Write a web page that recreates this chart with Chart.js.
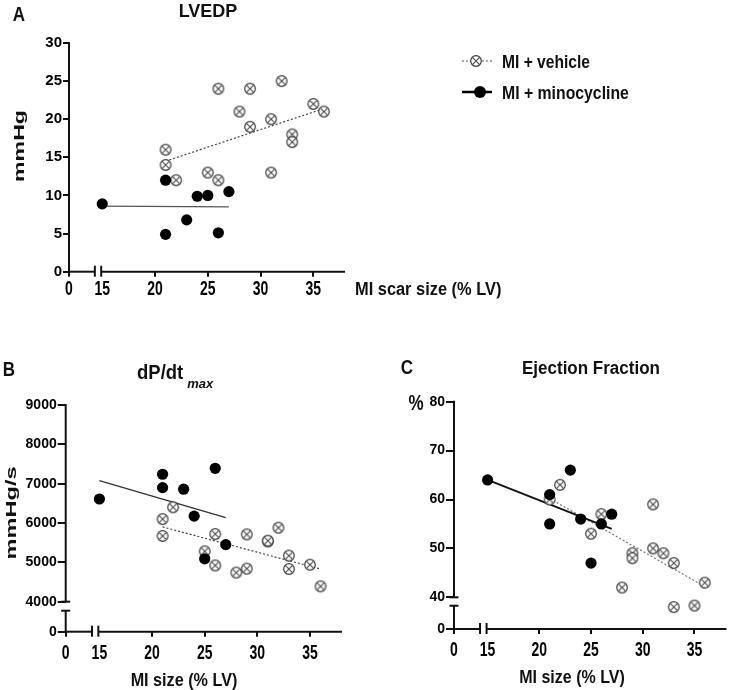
<!DOCTYPE html>
<html><head><meta charset="utf-8">
<script src="https://cdn.jsdelivr.net/npm/chart.js@4.4.0/dist/chart.umd.min.js"></script>
<style>
html,body{margin:0;padding:0;background:#fff;width:733px;height:690px;overflow:hidden;position:relative;
  font-family:"Liberation Sans",Arial,sans-serif;font-weight:bold;color:#111}
canvas{position:absolute}
.t{position:absolute;white-space:nowrap;line-height:1}
</style></head><body>
<canvas id="cA" width="733" height="320" style="left:0;top:0"></canvas>
<canvas id="cB" width="370" height="360" style="left:0;top:330px"></canvas>
<canvas id="cC" width="363" height="360" style="left:370px;top:330px"></canvas>

<div class="t" style="left:19px;top:15px;font-size:17px;transform:translate(-50%,-50%) scale(1,1.15)">A</div>
<div class="t" style="left:208px;top:11px;font-size:18px;transform:translate(-50%,-50%) scale(1,1.05)">LVEDP</div>
<div class="t" style="left:18.5px;top:146px;font-size:17px;transform:translate(-50%,-50%) rotate(-90deg) scale(1.36,0.9)">mmHg</div>
<div class="t" style="left:355px;top:288px;font-size:16.4px;transform:translate(0,-50%) scale(1,1.15)">MI scar size (% LV)</div>
<div class="t" style="left:502px;top:62px;font-size:15.6px;transform:translate(0,-50%) scale(1,1.15)">MI + vehicle</div>
<div class="t" style="left:502px;top:92.5px;font-size:15.8px;transform:translate(0,-50%) scale(1,1.15)">MI + minocycline</div>

<div class="t" style="left:9px;top:370px;font-size:17px;transform:translate(-50%,-50%) scale(1,1.15)">B</div>
<div class="t" style="left:137px;top:373px;font-size:18.5px;transform:translate(0,-50%) scale(1,1.05)">dP/dt<span style="font-style:italic;font-size:13px;position:relative;top:9px;margin-left:4px">max</span></div>
<div class="t" style="left:11px;top:513px;font-size:17px;transform:translate(-50%,-50%) rotate(-90deg) scale(1.39,0.85)">mmHg/s</div>
<div class="t" style="left:184px;top:680px;font-size:16.2px;transform:translate(-50%,-50%) scale(1,1.1)">MI size (% LV)</div>

<div class="t" style="left:407px;top:368px;font-size:17px;transform:translate(-50%,-50%) scale(1,1.15)">C</div>
<div class="t" style="left:522px;top:368px;font-size:17px;transform:translate(0,-50%) scale(1,1.05)">Ejection Fraction</div>
<div class="t" style="left:416px;top:403px;font-size:17px;transform:translate(-50%,-50%) scale(1,1.3)">%</div>
<div class="t" style="left:572px;top:677px;font-size:16px;transform:translate(-50%,-50%) scale(1,1.1)">MI size (% LV)</div>

<script>
// ================= DATA =================
const xTickValues = [0, 15, 20, 25, 30, 35];
const xTickLabels = ['0', '15', '20', '25', '30', '35'];

// Panel A - LVEDP (mmHg) vs MI scar size (% LV)
const vehicleScarA = [21, 21, 22, 25, 26, 26, 28, 29, 29, 31, 31, 32, 33, 33, 35, 36];
const vehicleLVEDP = [16, 14, 12, 13, 12, 24, 21, 24, 19, 20, 13, 25, 18, 17, 22, 21];
const minoScarA    = [15, 21, 21, 23, 24, 25, 26, 27];
const minoLVEDP    = [8.9, 12, 4.9, 6.8, 9.9, 10, 5.1, 10.5];
const fitVehicleA  = [[21, 14.5], [36, 21.4]];
const fitMinoA     = [[15, 8.6], [27, 8.5]];
const yTickValuesA = [0, 5, 10, 15, 20, 25, 30];
const yTickLabelsA = ['0', '5', '10', '15', '20', '25', '30'];

// Panel B - dP/dt max (mmHg/s) vs MI size (% LV)
const vehicleMIB   = [21, 21, 22, 25, 26, 26, 28, 29, 29, 31, 31, 32, 33, 33, 35, 36];
const vehicleDPDT  = [6100, 5670, 6400, 5280, 5720, 4920, 4740, 5710, 4840, 5530, 5550, 5880, 5170, 4830, 4940, 4390];
const minoMIB      = [15, 21, 21, 23, 24, 25, 26, 27];
const minoDPDT     = [6610, 7240, 6900, 6860, 6175, 5090, 7390, 5450];
const fitVehicleB  = [[21, 5900], [36, 4830]];
const fitMinoB     = [[15, 7080], [27, 6140]];
const yTickValuesB = [0, 4000, 5000, 6000, 7000, 8000, 9000];
const yTickLabelsB = ['0', '4000', '5000', '6000', '7000', '8000', '9000'];

// Panel C - Ejection fraction (%) vs MI size (% LV)
const vehicleMIC   = [21, 22, 25, 26, 28, 29, 29, 31, 31, 32, 33, 33, 35, 36];
const vehicleEF    = [60, 63, 53, 57, 42, 49, 48, 59, 50, 49, 47, 38, 38.3, 43];
const minoMIC      = [15, 21, 21, 23, 24, 25, 26, 27];
const minoEF       = [64, 61, 55, 66, 56, 47, 55, 57];
const fitVehicleC  = [[21, 60.2], [36, 42.2]];
const fitMinoC     = [[15, 64], [27, 54]];
const yTickValuesC = [0, 40, 50, 60, 70, 80];
const yTickLabelsC = ['0', '40', '50', '60', '70', '80'];

// ================= HELPERS =================
const FONT = "'Liberation Sans', Arial, sans-serif";
const X_LABEL_STRETCH = 1.4;
const pts = (xs, ys) => xs.map((x, i) => ({x, y: ys[i]}));
const seg = (p) => p.map(([x, y]) => ({x, y}));

class StretchLinear extends Chart.LinearScale {
  drawLabels(chartArea) {
    const items = this.getLabelItems(chartArea);
    if (!items.length) return super.drawLabels(chartArea);
    const cy = items[0].options.translation[1] + (items[0].textOffset || 0);
    const ctx = this.ctx;
    ctx.save();
    ctx.translate(0, cy); ctx.scale(1, X_LABEL_STRETCH); ctx.translate(0, -cy);
    super.drawLabels(chartArea);
    ctx.restore();
  }
}
StretchLinear.id = 'stretchLinear';
StretchLinear.defaults = Chart.LinearScale.defaults;
Chart.register(StretchLinear);

function makeOtimes(r) {
  const s = Math.ceil(r * 2 + 3);
  const c = document.createElement('canvas'); c.width = c.height = s;
  const g = c.getContext('2d'); const m = s / 2;
  g.fillStyle = '#fff'; g.strokeStyle = '#3a3a3a'; g.lineWidth = 1.2;
  g.beginPath(); g.arc(m, m, r, 0, Math.PI * 2); g.fill(); g.stroke();
  const d = r * 0.64;
  g.strokeStyle = '#4a4a4a'; g.lineWidth = 1.1;
  g.beginPath(); g.moveTo(m - d, m - d); g.lineTo(m + d, m + d);
  g.moveTo(m + d, m - d); g.lineTo(m - d, m + d); g.stroke();
  return c;
}
const OTIMES = makeOtimes(5.3);

const brokenAxes = {
  id: 'brokenAxes',
  beforeDatasetsDraw(chart, args, o) {
    const {ctx} = chart; const x = chart.scales.x, y = chart.scales.y;
    const x0 = x.left, x1 = x.right, y0 = y.bottom, y1 = y.top;
    const L = (a, b, c, d) => { ctx.beginPath(); ctx.moveTo(a, b); ctx.lineTo(c, d); ctx.stroke(); };
    ctx.save(); ctx.strokeStyle = '#111'; ctx.lineWidth = 2;
    if (o.yBreak) {
      const pLo = y.getPixelForValue(o.yBreak[0]), pHi = y.getPixelForValue(o.yBreak[1]);
      L(x0, y1 - 1, x0, pHi); L(x0 - 4.5, pHi, x0 + 4.5, pHi);
      L(x0, pLo, x0, y0 + 1); L(x0 - 4.5, pLo, x0 + 4.5, pLo);
    } else {
      L(x0, y1 - 1, x0, y0 + 1);
    }
    const qLo = x.getPixelForValue(o.xBreak[0]), qHi = x.getPixelForValue(o.xBreak[1]);
    L(x0 - 1, y0, qLo, y0); L(qLo, y0 - 6, qLo, y0 + 5);
    L(qHi, y0, x1, y0); L(qHi, y0 - 6, qHi, y0 + 5);
    ctx.restore();
  }
};

const legendSymbols = {
  id: 'legendSymbols',
  afterDraw(chart, args, o) {
    if (!o.show) return;
    const ctx = chart.ctx;
    ctx.save();
    ctx.strokeStyle = '#555'; ctx.lineWidth = 1; ctx.setLineDash([2, 2]);
    ctx.beginPath(); ctx.moveTo(462, 61); ctx.lineTo(492, 61); ctx.stroke();
    ctx.setLineDash([]);
    ctx.drawImage(OTIMES, 476 - OTIMES.width / 2, 61 - OTIMES.height / 2);
    ctx.strokeStyle = '#000'; ctx.lineWidth = 2.5;
    ctx.beginPath(); ctx.moveTo(462, 92); ctx.lineTo(492, 92); ctx.stroke();
    ctx.fillStyle = '#000'; ctx.beginPath(); ctx.arc(480, 92, 6, 0, Math.PI * 2); ctx.fill();
    ctx.restore();
  }
};

function makeChart(id, cfg) {
  const tickCol = c => (c.tick && c.tick.value === 15) ? 'rgba(0,0,0,0)' : '#111';
  return new Chart(document.getElementById(id), {
    type: 'scatter',
    data: { datasets: [
      { data: pts(cfg.minoX, cfg.minoY), pointStyle: 'circle', pointRadius: 5.6,
        backgroundColor: '#000', borderWidth: 0, order: 0, clip: false },
      { data: pts(cfg.vehX, cfg.vehY), pointStyle: OTIMES, pointRadius: 5.5, order: 1, clip: false },
      { data: seg(cfg.fitMino), showLine: true, pointRadius: 0, borderColor: cfg.minoLineColor,
        borderWidth: cfg.minoLineWidth, order: 2 },
      { data: seg(cfg.fitVeh), showLine: true, pointRadius: 0, borderColor: cfg.vehLineColor,
        borderWidth: 1.2, borderDash: [2, 2], order: 3 }
    ]},
    options: {
      responsive: false, animation: false, devicePixelRatio: 1, events: [],
      layout: { padding: { left: 0, top: cfg.padTop, right: cfg.padRight, bottom: 0 } },
      plugins: { legend: { display: false }, tooltip: { enabled: false },
        brokenAxes: { xBreak: cfg.xBreak, yBreak: cfg.yBreak },
        legendSymbols: { show: !!cfg.legend } },
      scales: {
        x: { type: 'stretchLinear', min: cfg.xMin, max: cfg.xMax,
          afterBuildTicks: s => { s.ticks = xTickValues.map(v => ({ value: v === 0 ? s.min : v })); },
          afterFit: s => { s.height = cfg.xAxisH; },
          ticks: { callback: (v, i) => xTickLabels[i], autoSkip: false, maxRotation: 0, minRotation: 0,
            padding: cfg.xPad, color: '#000', font: { family: FONT, size: 14, weight: 'bold' } },
          grid: { display: true, drawOnChartArea: false, drawTicks: true, tickLength: 5,
            lineWidth: 2, color: tickCol },
          border: { display: false } },
        y: { type: 'linear', min: cfg.yMin, max: cfg.yMax,
          afterBuildTicks: s => { s.ticks = cfg.yTicks.map(v => ({ value: v === 0 ? s.min : v })); },
          afterFit: s => { s.width = cfg.yAxisW; },
          ticks: { callback: (v, i) => cfg.yLabels[i], autoSkip: false, padding: 1, color: '#000',
            font: { family: FONT, size: cfg.yFont, weight: 'bold' } },
          grid: { display: true, drawOnChartArea: false, drawTicks: true, tickLength: cfg.yTick,
            lineWidth: 2, color: '#111' },
          border: { display: false } }
      }
    },
    plugins: [brokenAxes, legendSymbols]
  });
}

makeChart('cA', {
  minoX: minoScarA, minoY: minoLVEDP, vehX: vehicleScarA, vehY: vehicleLVEDP,
  fitMino: fitMinoA, fitVeh: fitVehicleA, minoLineColor: '#555', minoLineWidth: 1.3, vehLineColor: '#444',
  padTop: 43, padRight: 388, yAxisW: 69, xAxisH: 48.3,
  xMin: 11.85, xMax: 38, yMin: 0, yMax: 30, yTicks: yTickValuesA, yLabels: yTickLabelsA,
  yFont: 15, yTick: 6, xPad: 4, xBreak: [14.3, 14.9], yBreak: null, legend: true
});
makeChart('cB', {
  minoX: minoMIB, minoY: minoDPDT, vehX: vehicleMIB, vehY: vehicleDPDT,
  fitMino: fitMinoB, fitVeh: fitVehicleB, minoLineColor: '#333', minoLineWidth: 1.3, vehLineColor: '#444',
  padTop: 75, padRight: 28, yAxisW: 65.7, xAxisH: 58.3,
  xMin: 11.8, xMax: 38.04, yMin: 3237, yMax: 9000, yTicks: yTickValuesB, yLabels: yTickLabelsB,
  yFont: 14, yTick: 8, xPad: 8, xBreak: [14.3, 14.9], yBreak: [3771, 4000]
});
makeChart('cC', {
  minoX: minoMIC, minoY: minoEF, vehX: vehicleMIC, vehY: vehicleEF,
  fitMino: fitMinoC, fitVeh: fitVehicleC, minoLineColor: '#111', minoLineWidth: 1.8, vehLineColor: '#777',
  padTop: 71.7, padRight: 2, yAxisW: 84, xAxisH: 61,
  xMin: 11.75, xMax: 38.1, yMin: 33.52, yMax: 80, yTicks: yTickValuesC, yLabels: yTickLabelsC,
  yFont: 14, yTick: 8, xPad: 8, xBreak: [14.27, 14.9], yBreak: [38.28, 40]
});
</script>
</body></html>
